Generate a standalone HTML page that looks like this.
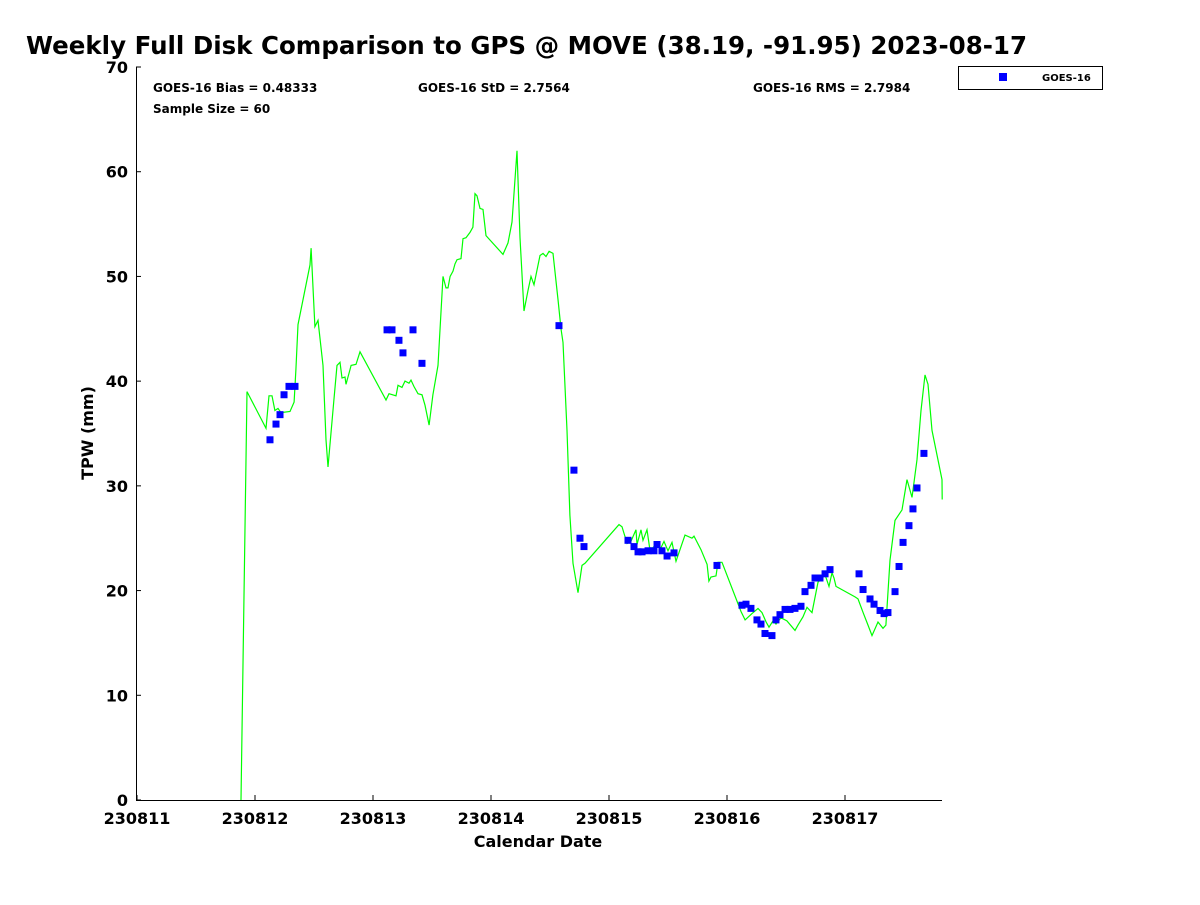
<!DOCTYPE html>
<html><head><meta charset="utf-8"><style>
body{margin:0;background:#fff;}
svg text{font-family:"DejaVu Sans","Liberation Sans",sans-serif;font-weight:bold;}
</style></head><body>
<svg id="chart" width="1200" height="900" xmlns="http://www.w3.org/2000/svg">
<rect width="1200" height="900" fill="#fff"/>
<text x="26" y="54" font-size="24.5">Weekly Full Disk Comparison to GPS @ MOVE (38.19, -91.95) 2023-08-17</text>
<g id="axes"></g>
<g id="series"></g>
<text x="153" y="92" font-size="12">GOES-16 Bias = 0.48333</text>
<text x="418" y="92" font-size="12">GOES-16 StD = 2.7564</text>
<text x="753" y="92" font-size="12">GOES-16 RMS = 2.7984</text>
<text x="153" y="113" font-size="12">Sample Size = 60</text>
<g>
<rect x="958.5" y="66.5" width="144" height="23" fill="#fff" stroke="#000" stroke-width="1"/>
<rect x="999" y="73" width="8" height="8" fill="#0000ff"/>
<text x="1042" y="81" font-size="10">GOES-16</text>
</g>
<text x="538" y="847" font-size="16" text-anchor="middle">Calendar Date</text>
<text transform="translate(93,433) rotate(-90)" font-size="16" text-anchor="middle">TPW (mm)</text>
</svg>
<script>
const xTickLabels=["230811","230812","230813","230814","230815","230816","230817"];
const yTicks=[0,10,20,30,40,50,60,70];
const gpsX=[0.881,0.932,1.093,1.119,1.144,1.169,1.195,1.220,1.297,1.331,1.347,1.364,1.466,1.475,1.508,1.534,1.576,1.602,1.619,1.669,1.695,1.720,1.737,1.763,1.771,1.805,1.814,1.856,1.890,2.110,2.136,2.195,2.212,2.246,2.271,2.305,2.322,2.347,2.381,2.415,2.441,2.475,2.508,2.551,2.593,2.619,2.636,2.653,2.678,2.695,2.712,2.746,2.763,2.788,2.822,2.847,2.864,2.881,2.907,2.932,2.958,3.102,3.144,3.178,3.220,3.246,3.280,3.314,3.339,3.364,3.415,3.441,3.466,3.492,3.525,3.568,3.593,3.610,3.644,3.669,3.695,3.737,3.771,3.797,4.085,4.110,4.153,4.186,4.229,4.237,4.271,4.288,4.322,4.347,4.373,4.407,4.432,4.466,4.500,4.534,4.568,4.644,4.703,4.720,4.780,4.831,4.847,4.864,4.907,4.924,4.958,5.119,5.153,5.212,5.263,5.297,5.331,5.356,5.390,5.415,5.458,5.508,5.576,5.602,5.644,5.678,5.720,5.771,5.831,5.864,5.890,5.907,5.924,6.085,6.110,6.153,6.195,6.229,6.280,6.322,6.347,6.381,6.424,6.483,6.525,6.568,6.610,6.644,6.678,6.703,6.737,6.822,6.824];
const gpsY=[0,39.0,35.5,38.6,38.6,37.2,37.4,37.0,37.1,38.0,41.1,45.4,51.1,52.7,45.2,45.8,41.5,34.4,31.8,38.2,41.5,41.8,40.3,40.4,39.7,41.1,41.5,41.6,42.8,38.2,38.8,38.6,39.6,39.4,40.0,39.8,40.1,39.5,38.8,38.7,37.7,35.8,38.7,41.5,50.0,48.9,48.9,50.0,50.5,51.2,51.6,51.7,53.6,53.7,54.2,54.7,57.9,57.7,56.5,56.4,53.9,52.1,53.2,55.2,62.0,53.7,46.7,48.7,50.0,49.2,52.0,52.2,51.9,52.4,52.2,47.8,45.0,43.7,35.3,27.2,22.6,19.8,22.4,22.6,26.3,26.1,24.5,24.7,25.8,24.4,25.8,24.8,25.8,23.9,24.1,24.5,23.9,24.7,23.8,24.6,22.8,25.3,25.0,25.2,23.9,22.5,20.9,21.3,21.4,22.7,22.7,18.0,17.2,17.8,18.3,17.9,17.0,16.5,17.1,16.8,17.4,17.1,16.2,16.7,17.5,18.4,17.9,20.8,21.5,20.4,21.7,21.2,20.4,19.4,19.2,17.9,16.7,15.7,17.0,16.4,16.7,22.9,26.7,27.7,30.6,28.9,32.5,37.2,40.6,39.7,35.3,30.6,28.7];
const goesX=[1.127,1.178,1.212,1.246,1.288,1.339,2.119,2.161,2.220,2.254,2.339,2.415,3.576,3.703,3.754,3.788,4.161,4.212,4.246,4.280,4.331,4.381,4.407,4.449,4.492,4.551,4.915,5.127,5.161,5.203,5.254,5.288,5.322,5.381,5.415,5.449,5.492,5.534,5.576,5.627,5.661,5.712,5.746,5.788,5.831,5.873,6.119,6.153,6.212,6.246,6.297,6.331,6.364,6.424,6.458,6.492,6.542,6.576,6.610,6.669];
const goesY=[34.4,35.9,36.8,38.7,39.5,39.5,44.9,44.9,43.9,42.7,44.9,41.7,45.3,31.5,25.0,24.2,24.8,24.2,23.7,23.7,23.8,23.8,24.4,23.8,23.3,23.6,22.4,18.6,18.7,18.3,17.2,16.8,15.9,15.7,17.2,17.7,18.2,18.2,18.3,18.5,19.9,20.5,21.2,21.2,21.6,22.0,21.6,20.1,19.2,18.7,18.1,17.8,17.9,19.9,22.3,24.6,26.2,27.8,29.8,33.1];

const NS="http://www.w3.org/2000/svg";
const L=136,R=942,T=67,B=800,X0=137,DAY=118;
const sx=d=>X0+d*DAY;
const sy=v=>B-(v/70)*(B-T);
function mk(tag,attrs,parent){const e=document.createElementNS(NS,tag);for(const k in attrs)e.setAttribute(k,attrs[k]);parent.appendChild(e);return e;}
const axes=document.getElementById('axes');
const frame=mk('path',{d:`M${L+0.5},${T} V${B+0.5} H${R}`,fill:'none',stroke:'#000','stroke-width':1},axes);


yTicks.forEach(v=>{
  const y=sy(v);
  const t=mk('line',{x1:L,x2:L+5,y1:y,y2:y,stroke:'#000'},axes);
  
  
  const lb=mk('text',{x:L-8,y:y+6,'font-size':16,'text-anchor':'end'},axes);
  lb.textContent=v;
  
  
});
xTickLabels.forEach((s,i)=>{
  const x=sx(i);
  const t=mk('line',{x1:x,x2:x,y1:B,y2:B-5,stroke:'#000'},axes);
  
  
  const lb=mk('text',{x:x,y:B+24,'font-size':16,'text-anchor':'middle'},axes);
  lb.textContent=s;
  
  
});
const ser=document.getElementById('series');
const line=mk('polyline',{points:gpsX.map((d,i)=>sx(d).toFixed(1)+','+sy(gpsY[i]).toFixed(1)).join(' '),fill:'none',stroke:'#00ff00','stroke-width':1.2},ser);


goesX.forEach((d,i)=>{
  const r=mk('rect',{x:sx(d)-3.5,y:sy(goesY[i])-3.5,width:7,height:7,fill:'#0000ff'},ser);
  
  
});
</script>
</body></html>
